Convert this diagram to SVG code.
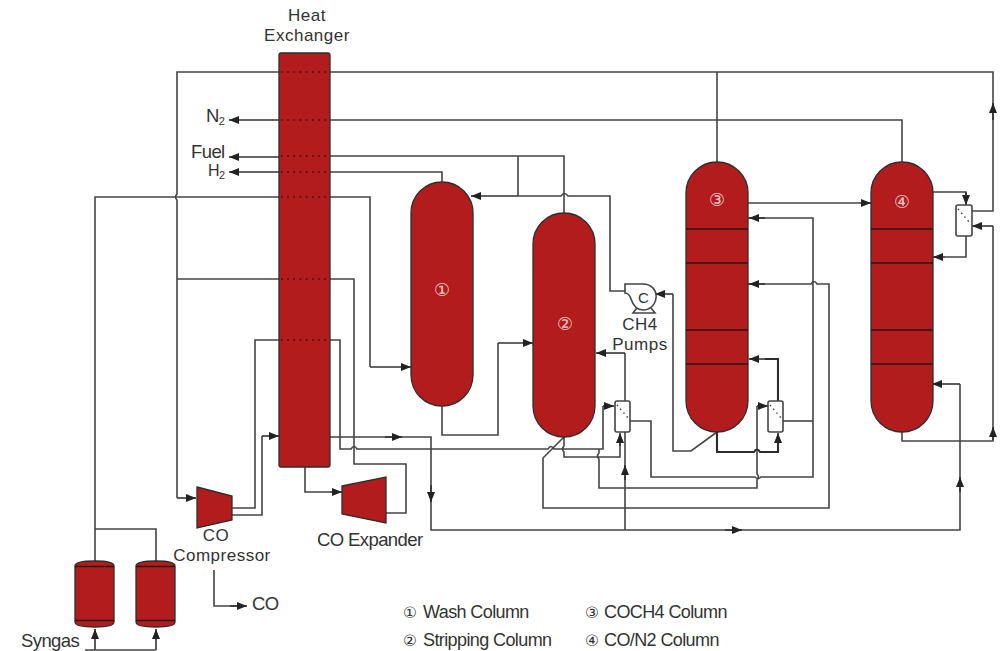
<svg xmlns="http://www.w3.org/2000/svg" width="1000" height="651" viewBox="0 0 1000 651">
<style>
text{font-family:"Liberation Sans","DejaVu Sans",sans-serif;fill:#333;font-size:18.500px;letter-spacing:-.6px}
.c{text-anchor:middle}
.w{font-size:17px;letter-spacing:.5px}
.n{fill:#eec9c9;font-size:18px;text-anchor:middle;letter-spacing:0}
.lg{font-size:18px}
.m{font-size:15.500px;letter-spacing:0}
.sub{font-size:11px}
.v{fill:#b21c1c;stroke:#2e2e2e;stroke-width:1.3}
.t{fill:none;stroke:#2a1414;stroke-width:1.4}
.l{fill:none;stroke:#444;stroke-width:1.6}
.b{fill:none;stroke:#2c2c2c;stroke-width:2.100}
.a{fill:none;stroke:#333;stroke-width:1.6;marker-end:url(#ah)}
.d{fill:none;stroke:#3a1010;stroke-width:1.6;stroke-dasharray:1.6 4.6}
.r{fill:#fff;stroke:#444;stroke-width:1.6}
.rd{fill:none;stroke:#333;stroke-width:1.4;stroke-dasharray:1.4 3.6}
</style>
<defs>
<marker id="ah" markerUnits="userSpaceOnUse" markerWidth="11" markerHeight="9" refX="10" refY="4.5" orient="auto"><path d="M0 .5L10 4.5L0 8.5z" fill="#222"/></marker>
</defs>
<g id="connectors">
<path class="l" d="M279 72H177V194q-3 3 0 6V279M177 279V498"/>
<path class="a" d="M177 498H196"/>
<path class="l" d="M177 279H279"/>
<path class="l" d="M330 72H993V211H972"/>
<path class="a" d="M993 120V103"/>
<path class="l" d="M717 72V162"/>
<path class="l" d="M902 162V120H330"/>
<path class="a" d="M279 120H229"/>
<path class="l" d="M564 213V156H330"/>
<path class="a" d="M279 157H229"/>
<path class="l" d="M518 156V196"/>
<path class="l" d="M442 182V172H330"/>
<path class="a" d="M279 172H229"/>
<path class="l" d="M625 291H610V196H568q-3.500-5-7 0H518"/>
<path class="a" d="M518 196H471"/>
<path class="l" d="M279 197H95V561"/>
<path class="l" d="M330 197H370V367"/>
<path class="a" d="M370 367H411"/>
<path class="l" d="M95 529H156V561"/>
<path class="l" d="M330 279H354V464H406V513H386"/>
<path class="l" d="M279 340H255V508H232"/>
<path class="l" d="M232 515H262V436"/>
<path class="a" d="M262 436H279"/>
<path class="l" d="M330 340H340V449H351q3-5 6 0H548q3-5 6 0H603V406"/>
<path class="a" d="M603 406H614"/>
<path class="l" d="M330 437H431V530H960V384"/>
<path class="a" d="M385 437H402"/>
<path class="a" d="M431 485V502"/>
<path class="a" d="M725 530H742"/>
<path class="a" d="M960 492V477"/>
<path class="a" d="M960 384H932"/>
<path class="l" d="M625 530V432M625 401V353"/>
<path class="a" d="M625 480V465"/>
<path class="a" d="M625 353H596"/>
<path class="l" d="M564 437V446q-3 3 0 6V457H620V442"/>
<path class="a" d="M620 446V433"/>
<path class="l" d="M564 437L543 458V508H829V284H817q-3-5-6 0H748"/>
<path class="a" d="M765 284H749"/>
<path class="l" d="M748 218H813V477H761q-3 3-6 0H651V421H630"/>
<path class="a" d="M765 218H749"/>
<path class="l" d="M813 421H783"/>
<path class="l" d="M599 449V453q-3 3 0 6V488H757V480q3-3 0-6V406"/>
<path class="a" d="M757 406H768"/>
<path class="b" d="M778 401V359H765"/>
<path class="a" d="M765 359H749"/>
<path class="b" d="M717 432V452H754q3-5 6 0H778V442"/>
<path class="a" d="M778 446V433"/>
<path class="l" d="M717 432L691 451H673V294"/>
<path class="a" d="M673 294H655"/>
<path class="l" d="M442 406V435H498V343"/>
<path class="a" d="M498 343H533"/>
<path class="l" d="M748 203H860"/>
<path class="a" d="M860 203H871"/>
<path class="l" d="M932 192H966V200"/>
<path class="a" d="M966 192V205"/>
<path class="l" d="M966 236V257H945"/>
<path class="a" d="M945 257H933"/>
<path class="l" d="M993 226V441H902V432"/>
<path class="a" d="M993 440V427"/>
<path class="a" d="M993 226H972"/>
<path class="l" d="M305 467V492H330"/>
<path class="a" d="M330 492H342"/>
<path class="a" d="M95 650V629"/>
<path class="a" d="M156 650V629"/>
<path class="l" d="M85 650H156"/>
<path class="l" d="M214 570V606H240"/>
<path class="a" d="M230 606H247"/>
</g>
<g id="heat-exchanger">
<rect class="v" x="279" y="53" width="51" height="414" rx="2"/>
<path class="d" d="M281 72H330M281 120H330M281 156H330M281 172H330M281 197H330M281 279H330M281 340H330"/>
<text class="c w" x="307" y="21">Heat</text>
<text class="c w" x="307" y="41">Exchanger</text>
</g>
<g id="wash-column">
<path class="v" d="M411 213A31 31 0 0 1 473 213V375A31 31 0 0 1 411 375Z"/>
<text class="n" x="442" y="296">①</text>
</g>
<g id="stripping-column">
<path class="v" d="M533 244A31 31 0 0 1 595 244V406A31 31 0 0 1 533 406Z"/>
<text class="n" x="565" y="330">②</text>
</g>
<g id="coch4-column">
<path class="v" d="M686 193A31 31 0 0 1 748 193V401A31 31 0 0 1 686 401Z"/>
<path class="t" d="M686 229H748M686 263H748M686 330H748M686 364H748"/>
<text class="n" x="717" y="206">③</text>
</g>
<g id="co-n2-column">
<path class="v" d="M871 193A31 31 0 0 1 933 193V401A31 31 0 0 1 871 401Z"/>
<path class="t" d="M871 229H933M871 263H933M871 330H933M871 364H933"/>
<text class="n" x="902" y="208">④</text>
</g>
<g id="reboiler-2">
<rect class="r" x="615" y="401" width="15" height="31" rx="2"/>
<path class="rd" d="M617 405L629 419"/>
</g>
<g id="reboiler-3">
<rect class="r" x="768" y="401" width="15" height="31" rx="2"/>
<path class="rd" d="M770 405L782 419"/>
</g>
<g id="reboiler-4">
<rect class="r" x="956" y="205" width="16" height="31" rx="2"/>
<path class="rd" d="M958 209L970 223"/>
</g>
<g id="ch4-pumps">
<path fill="#fff" stroke="#444" stroke-width="1.600" d="M625 293V284H643C652 284 657 291 656 298C655 306 649 310 643 310C637 310 633 305 631 299C630 296 628 293 625 293Z"/>
<path fill="none" stroke="#444" stroke-width="1.600" d="M637 308L633 313H655L651 308M634 313H654"/>
<text class="c" x="643" y="303" style="font-size:15px">C</text>
<text class="c w" x="640" y="330">CH4</text>
<text class="c w" x="640" y="350">Pumps</text>
</g>
<g id="co-compressor">
<path class="v" d="M197 487L232 496V520L197 528Z"/>
<text class="c w" x="216" y="541">CO</text>
<text class="c w" x="222" y="561">Compressor</text>
</g>
<g id="co-expander">
<path class="v" d="M342 486L386 477V523L342 514Z"/>
<text x="317" y="546">CO Expander</text>
</g>
<g id="vessel-1">
<path class="v" d="M75 566Q75 561 95 561Q114 561 114 566V622Q114 627 95 627Q75 627 75 622Z"/>
<path class="t" d="M75 566.500H114M75 620.500H114"/>
</g>
<g id="vessel-2">
<path class="v" d="M136 566Q136 561 156 561Q175 561 175 566V622Q175 627 156 627Q136 627 136 622Z"/>
<path class="t" d="M136 566.500H175M136 620.500H175"/>
</g>
<g id="labels">
<text x="206" y="122">N<tspan class="sub" dy="3">2</tspan></text>
<text x="191" y="158">Fuel</text>
<text x="208" y="176" style="font-size:16px">H<tspan class="sub" dy="3">2</tspan></text>
<text x="21" y="646.500">Syngas</text>
<text x="252" y="610">CO</text>
<text class="m" x="403" y="618">①</text><text class="lg" x="423" y="618">Wash Column</text>
<text class="m" x="403" y="646">②</text><text class="lg" x="423" y="646">Stripping Column</text>
<text class="m" x="585" y="618">③</text><text class="lg" x="604" y="618">COCH4 Column</text>
<text class="m" x="585" y="646">④</text><text class="lg" x="604" y="646">CO/N2 Column</text>
</g>
</svg>
